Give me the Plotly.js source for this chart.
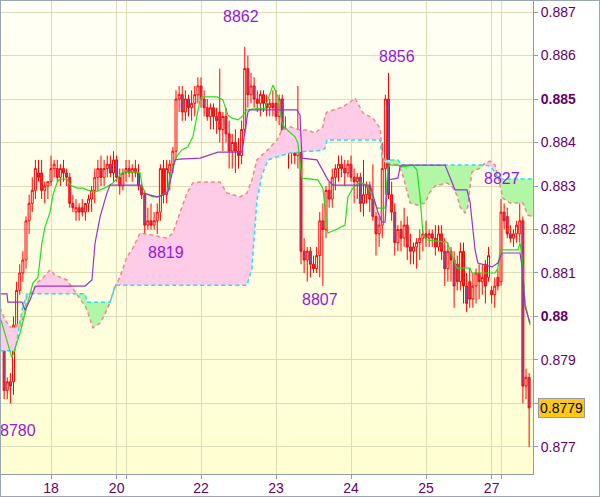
<!DOCTYPE html>
<html><head><meta charset="utf-8">
<script src="https://cdn.plot.ly/plotly-3.0.1.min.js"></script>
<style>
html,body{margin:0;padding:0;background:#fff;}
#wrap{position:relative;width:600px;height:497px;overflow:hidden;}
#bg{position:absolute;left:1px;top:1px;width:532px;height:473px;background:linear-gradient(#FFFFF6,#FFFFD2);}
#chart{position:absolute;left:0;top:0;width:600px;height:497px;}
#frame{position:absolute;left:0;top:0;width:600px;height:497px;box-sizing:border-box;border:1px solid #9AA6B2;pointer-events:none;}
</style></head>
<body><div id="wrap"><div id="bg"></div><div id="chart"></div><div id="frame"></div></div>
<script>
// hourly bars, hour index 0 = day 18 00:00 (weekend hours removed)
const firstHour = -15;
const open = [0.8796,0.8783,0.8785,0.8785,0.8798,0.8806,0.8810,0.8813,0.8822,0.8826,
0.8829,0.8833,0.8833,0.8829,0.8830,0.8831,0.8834,0.8834,0.8832,0.8834,
0.8833,0.8832,0.8826,0.8824,0.8825,0.8825,0.8824,0.8826,0.8827,0.8829,
0.8832,0.8834,0.8832,0.8834,0.8835,0.8833,0.8836,0.8832,0.8830,0.8833,
0.8834,0.8833,0.8834,0.8833,0.8830,0.8828,0.8821,0.8822,0.8821,0.8822,
0.8824,0.8834,0.8828,0.8833,0.8835,0.8838,0.8850,0.8851,0.8847,0.8850,
0.8848,0.8849,0.8851,0.8853,0.8850,0.8848,0.8846,0.8848,0.8846,0.8847,
0.8843,0.8846,0.8842,0.8838,0.8840,0.8838,0.8837,0.8843,0.8857,0.8851,
0.8853,0.8850,0.8849,0.8851,0.8849,0.8848,0.8849,0.8849,0.8846,0.8850,
0.8841,0.8839,0.8838,0.8839,0.8837,0.8840,0.8815,0.8813,0.8815,0.8812,
0.8811,0.8814,0.8822,0.8820,0.8829,0.8827,0.8832,0.8834,0.8835,0.8834,
0.8833,0.8835,0.8832,0.8831,0.8832,0.8826,0.8828,0.8830,0.8827,0.8823,
0.8819,0.8821,0.8834,0.8850,0.8828,0.8824,0.8817,0.8820,0.8818,0.8821,
0.8816,0.8815,0.8816,0.8817,0.8818,0.8819,0.8818,0.8819,0.8818,0.8816,
0.8819,0.8815,0.8811,0.8815,0.8813,0.8812,0.8808,0.8815,0.8807,0.8808,
0.8804,0.8807,0.8810,0.8808,0.8812,0.8809,0.8806,0.8805,0.8809,0.8808,
0.8824,0.8823,0.8819,0.8818,0.8819,0.8819,0.8822,0.8784,0.8786];
const high = [0.8797,0.8786,0.8787,0.8800,0.8808,0.8812,0.8815,0.8823,0.8828,0.8832,
0.8836,0.8836,0.8836,0.8831,0.8831,0.8837,0.8836,0.8836,0.8835,0.8836,
0.8834,0.8833,0.8828,0.8827,0.8826,0.8827,0.8826,0.8828,0.8830,0.8834,
0.8836,0.8837,0.8836,0.8837,0.8837,0.8838,0.8837,0.8834,0.8834,0.8836,
0.8836,0.8835,0.8836,0.8835,0.8831,0.8829,0.8825,0.8826,0.8824,0.8826,
0.8835,0.8836,0.8836,0.8836,0.8839,0.8852,0.8853,0.8853,0.8852,0.8851,
0.8852,0.8853,0.8855,0.8855,0.8852,0.8850,0.8849,0.8849,0.8848,0.8857,
0.8847,0.8848,0.8845,0.8842,0.8843,0.8841,0.8845,0.8862,0.8860,0.8856,
0.8855,0.8852,0.8852,0.8852,0.8851,0.8850,0.8852,0.8852,0.8851,0.8851,
0.8846,0.8843,0.8842,0.8841,0.8853,0.8841,0.8818,0.8816,0.8816,0.8814,
0.8816,0.8824,0.8826,0.8830,0.8831,0.8834,0.8835,0.8837,0.8837,0.8836,
0.8836,0.8837,0.8834,0.8833,0.8833,0.8836,0.8831,0.8831,0.8835,0.8824,
0.8823,0.8840,0.8851,0.8856,0.8831,0.8826,0.8821,0.8822,0.8825,0.8823,
0.8819,0.8817,0.8818,0.8820,0.8820,0.8822,0.8820,0.8820,0.8821,0.8821,
0.8821,0.8818,0.8817,0.8816,0.8815,0.8814,0.8817,0.8817,0.8810,0.8811,
0.8810,0.8811,0.8812,0.8812,0.8813,0.8816,0.8807,0.8809,0.8811,0.8827,
0.8826,0.8825,0.8821,0.8820,0.8822,0.8826,0.8823,0.8788,0.8787];
const low = [0.8781,0.8781,0.8780,0.8782,0.8795,0.8805,0.8808,0.8811,0.8819,0.8824,
0.8827,0.8831,0.8827,0.8826,0.8827,0.8830,0.8832,0.8831,0.8830,0.8831,
0.8830,0.8825,0.8824,0.8822,0.8822,0.8823,0.8822,0.8824,0.8824,0.8826,
0.8829,0.8830,0.8830,0.8832,0.8832,0.8831,0.8831,0.8828,0.8829,0.8831,
0.8832,0.8831,0.8832,0.8829,0.8827,0.8819,0.8820,0.8820,0.8820,0.8819,
0.8822,0.8826,0.8826,0.8829,0.8833,0.8836,0.8847,0.8845,0.8845,0.8846,
0.8845,0.8846,0.8849,0.8848,0.8846,0.8845,0.8843,0.8843,0.8842,0.8840,
0.8838,0.8840,0.8834,0.8834,0.8833,0.8834,0.8835,0.8842,0.8848,0.8849,
0.8848,0.8847,0.8846,0.8847,0.8846,0.8846,0.8846,0.8845,0.8844,0.8838,
0.8838,0.8834,0.8835,0.8835,0.8834,0.8812,0.8810,0.8808,0.8809,0.8810,
0.8810,0.8809,0.8807,0.8818,0.8825,0.8825,0.8829,0.8831,0.8832,0.8830,
0.8832,0.8831,0.8826,0.8827,0.8824,0.8823,0.8826,0.8824,0.8822,0.8814,
0.8816,0.8818,0.8828,0.8827,0.8822,0.8814,0.8815,0.8815,0.8816,0.8813,
0.8812,0.8812,0.8811,0.8813,0.8815,0.8816,0.8816,0.8816,0.8814,0.8815,
0.8813,0.8807,0.8808,0.8808,0.8802,0.8806,0.8806,0.8803,0.8801,0.8802,
0.8802,0.8803,0.8804,0.8805,0.8803,0.8808,0.8803,0.8802,0.8806,0.8807,
0.8820,0.8818,0.8817,0.8816,0.8817,0.8817,0.8780,0.8781,0.8770];
const close = [0.8783,0.8785,0.8784,0.8798,0.8806,0.8810,0.8813,0.8822,0.8826,0.8829,
0.8834,0.8832,0.8829,0.8830,0.8831,0.8834,0.8835,0.8832,0.8834,0.8833,
0.8832,0.8826,0.8825,0.8825,0.8824,0.8824,0.8826,0.8827,0.8829,0.8832,
0.8834,0.8832,0.8834,0.8835,0.8833,0.8836,0.8832,0.8830,0.8833,0.8834,
0.8833,0.8834,0.8833,0.8830,0.8828,0.8821,0.8822,0.8821,0.8822,0.8824,
0.8834,0.8828,0.8834,0.8835,0.8838,0.8850,0.8851,0.8847,0.8850,0.8848,
0.8849,0.8851,0.8853,0.8850,0.8848,0.8846,0.8848,0.8846,0.8845,0.8843,
0.8846,0.8842,0.8838,0.8840,0.8838,0.8837,0.8843,0.8857,0.8851,0.8853,
0.8850,0.8849,0.8851,0.8849,0.8848,0.8849,0.8848,0.8846,0.8850,0.8840,
0.8839,0.8838,0.8839,0.8837,0.8840,0.8815,0.8813,0.8815,0.8812,0.8811,
0.8814,0.8822,0.8820,0.8829,0.8827,0.8832,0.8834,0.8835,0.8834,0.8833,
0.8835,0.8832,0.8831,0.8832,0.8826,0.8828,0.8830,0.8827,0.8823,0.8819,
0.8821,0.8834,0.8850,0.8828,0.8824,0.8817,0.8820,0.8818,0.8821,0.8816,
0.8815,0.8816,0.8817,0.8818,0.8819,0.8818,0.8819,0.8818,0.8816,0.8819,
0.8815,0.8811,0.8815,0.8813,0.8807,0.8808,0.8815,0.8807,0.8803,0.8804,
0.8807,0.8810,0.8808,0.8809,0.8807,0.8814,0.8805,0.8807,0.8807,0.8824,
0.8822,0.8819,0.8818,0.8819,0.8821,0.8822,0.8784,0.8786,0.8779];

// Tenkan-sen (green)
const tenkanH = [-16.0,-12.5,-9.9,-8.3,-5.8,-4.2,-2.9,-1.9,-0.3,0.6,1.9,2.9,5.1,6.1,8.3,10.2,11.5,14.1,17.9,19.8,22.1,23.0,27.5,28.5,29.1,30.1,32.6,34.2,35.5,37.1,38.7,40.3,41.9,43.8,45.4,46.7,47.7,48.3,53.1,55.0,56.6,57.9,59.8,61.1,62.7,64.3,68.5,71.0,72.6,73.9,74.9,78.1,79.0,80.3,85.4,87.0,88.6,90.9,94.1,95.0,96.6,98.9,101.1,102.7,104.3,106.9,107.8,108.5,111.0,112.3,115.8,117.1,118.1,119.0,120.3,126.7,127.7,129.9,134.1,134.7,142.1,143.0,143.7,149.4,150.1,150.7,151.7,153.3];
const tenkan = [0.87992,0.87905,0.87962,0.88008,0.88077,0.88089,0.88169,0.88206,0.88240,0.88279,0.88307,0.88316,0.88316,0.88302,0.88295,0.88295,0.88291,0.88286,0.88298,0.88307,0.88325,0.88332,0.88332,0.88330,0.88302,0.88284,0.88275,0.88275,0.88279,0.88286,0.88341,0.88369,0.88383,0.88390,0.88413,0.88459,0.88498,0.88505,0.88505,0.88498,0.88463,0.88456,0.88452,0.88459,0.88475,0.88477,0.88479,0.88532,0.88505,0.88445,0.88433,0.88413,0.88399,0.88318,0.88314,0.88295,0.88192,0.88199,0.88210,0.88275,0.88295,0.88309,0.88302,0.88279,0.88249,0.88249,0.88344,0.88348,0.88348,0.88344,0.88348,0.88337,0.88275,0.88192,0.88176,0.88171,0.88153,0.88111,0.88111,0.88100,0.88100,0.88111,0.88153,0.88153,0.88169,0.88137,0.88031,0.87980];

// Kijun-sen (purple)
const kijunH = [-16.0,-14.1,-13.8,-9.3,-8.3,-6.7,-5.1,-4.2,10.9,13.1,14.1,15.7,17.9,18.9,28.5,29.4,33.9,35.8,37.4,38.7,39.7,41.3,47.7,53.4,61.1,63.0,63.7,78.7,79.7,80.3,85.1,88.6,90.2,102.1,104.6,105.9,106.9,107.8,111.0,111.7,112.3,126.1,127.7,128.3,129.3,133.1,134.1,135.7,136.6,141.1,143.0,144.3,150.1,151.0,151.7,153.3];
const kijun = [0.88052,0.88052,0.88033,0.88033,0.88015,0.88038,0.88068,0.88070,0.88070,0.88084,0.88169,0.88229,0.88284,0.88302,0.88302,0.88284,0.88275,0.88279,0.88286,0.88330,0.88360,0.88362,0.88364,0.88378,0.88378,0.88470,0.88475,0.88475,0.88463,0.88364,0.88360,0.88314,0.88302,0.88302,0.88240,0.88217,0.88217,0.88314,0.88318,0.88344,0.88348,0.88348,0.88318,0.88307,0.88291,0.88291,0.88263,0.88153,0.88123,0.88114,0.88123,0.88146,0.88146,0.88100,0.88022,0.87985];

// Senkou spans (cloud)
const cloudH = [-16.3,-14.7,-13.1,-11.5,-10.9,-9.9,-9.0,-8.3,-7.7,-6.1,-4.5,-2.6,-0.3,1.3,5.1,6.7,8.6,10.2,10.9,11.5,13.4,15.7,17.9,18.9,19.5,20.5,22.1,24.3,26.2,28.5,32.6,37.1,39.0,41.3,43.5,45.4,47.7,54.1,56.3,60.5,62.7,64.3,65.9,67.5,69.4,72.3,73.9,76.5,79.7,81.9,84.5,87.0,87.7,88.3,90.2,93.4,95.7,97.3,99.8,103.0,105.3,105.9,106.6,111.0,112.3,113.9,114.9,117.4,119.7,121.3,122.9,126.7,128.3,129.9,130.9,132.5,133.4,134.1,134.7,137.3,138.9,140.5,142.1,143.0,144.6,146.9,151.0,152.6,154.2];
const spanA = [0.88020,0.87992,0.87976,0.87974,0.87980,0.87974,0.87997,0.88008,0.88047,0.88056,0.88077,0.88089,0.88107,0.88095,0.88084,0.88068,0.88049,0.88031,0.88024,0.88015,0.87974,0.87985,0.88015,0.88033,0.88045,0.88068,0.88091,0.88137,0.88157,0.88192,0.88187,0.88180,0.88192,0.88238,0.88284,0.88307,0.88309,0.88309,0.88284,0.88275,0.88284,0.88314,0.88360,0.88371,0.88383,0.88406,0.88429,0.88436,0.88429,0.88429,0.88422,0.88436,0.88463,0.88470,0.88475,0.88482,0.88493,0.88502,0.88468,0.88456,0.88433,0.88383,0.88355,0.88348,0.88332,0.88284,0.88261,0.88256,0.88261,0.88286,0.88300,0.88307,0.88300,0.88279,0.88252,0.88238,0.88252,0.88298,0.88332,0.88341,0.88353,0.88357,0.88348,0.88323,0.88272,0.88261,0.88261,0.88233,0.88229];
const spanB = [0.87921,0.87921,0.87921,0.87921,0.87946,0.87992,0.88026,0.88038,0.88052,0.88052,0.88052,0.88052,0.88052,0.88052,0.88052,0.88052,0.88052,0.88052,0.88052,0.88033,0.88033,0.88033,0.88033,0.88033,0.88047,0.88072,0.88072,0.88072,0.88072,0.88072,0.88072,0.88072,0.88072,0.88072,0.88072,0.88072,0.88072,0.88072,0.88072,0.88072,0.88072,0.88111,0.88268,0.88325,0.88360,0.88367,0.88371,0.88376,0.88378,0.88380,0.88380,0.88383,0.88387,0.88406,0.88406,0.88406,0.88406,0.88406,0.88406,0.88406,0.88406,0.88367,0.88360,0.88360,0.88348,0.88348,0.88348,0.88348,0.88348,0.88348,0.88348,0.88348,0.88348,0.88348,0.88348,0.88348,0.88348,0.88348,0.88348,0.88348,0.88348,0.88346,0.88332,0.88318,0.88316,0.88316,0.88316,0.88316,0.88316];

// high / low labels
const labelText = ['8862','8856','8819','8807','8780','8827'];
const labelH = [60.8,110.7,36.8,86.1,-10.6,144.3];
const labelY = [0.88689,0.88597,0.88148,0.88038,0.87739,0.88318];

const lastPrice = 0.8779;
const yTicks = [0.877,0.878,0.879,0.880,0.881,0.882,0.883,0.884,0.885,0.886,0.887];
const yTickText = ['0.877','','0.879','<b>0.88</b>','0.881','0.882','0.883','0.884','<b>0.885</b>','0.886','0.887'];
const xTicks = [0,21,24,48,72,96,120,141,144];
const xTickText = ['18','20','','22','23','24','25','27',''];

const barH = open.map((_, i) => firstHour + i);
const upper = spanA.map((a, i) => Math.max(a, spanB[i]));

const traces = [
  {x: cloudH, y: spanB, mode: 'lines', line: {width: 0, color: 'rgba(0,0,0,0)'}, hoverinfo: 'skip', showlegend: false},
  {x: cloudH, y: upper, mode: 'lines', line: {width: 0, color: 'rgba(0,0,0,0)'}, fill: 'tonexty', fillcolor: '#FFCCE8', hoverinfo: 'skip', showlegend: false},
  {x: cloudH, y: spanA, mode: 'lines', line: {width: 0, color: 'rgba(0,0,0,0)'}, hoverinfo: 'skip', showlegend: false},
  {x: cloudH, y: upper, mode: 'lines', line: {width: 0, color: 'rgba(0,0,0,0)'}, fill: 'tonexty', fillcolor: '#B2F7A6', hoverinfo: 'skip', showlegend: false},
  {x: cloudH, y: spanA, mode: 'lines', line: {width: 1.5, color: '#F08888', dash: '4px,3px'}, hoverinfo: 'skip', showlegend: false},
  {x: cloudH, y: spanB, mode: 'lines', line: {width: 1.5, color: '#22E0F0', dash: '4px,3px'}, hoverinfo: 'skip', showlegend: false},
  {type: 'candlestick', x: barH, open: open, high: high, low: low, close: close,
   increasing: {line: {color: '#FF0000', width: 1}, fillcolor: 'rgba(0,0,0,0)'},
   decreasing: {line: {color: '#FF0000', width: 1}, fillcolor: '#7B55B5'},
   whiskerwidth: 0, hoverinfo: 'skip', showlegend: false},
  {x: tenkanH, y: tenkan, mode: 'lines', line: {width: 1.2, color: '#22DD22'}, hoverinfo: 'skip', showlegend: false},
  {x: kijunH, y: kijun, mode: 'lines', line: {width: 1.2, color: '#9933CC'}, hoverinfo: 'skip', showlegend: false}
];

const annotations = labelText.map((t, i) => ({
  x: labelH[i], y: labelY[i], xref: 'x', yref: 'y', text: t, showarrow: false,
  font: {family: 'Arial, Liberation Sans, sans-serif', size: 16, color: '#9418D8'}
}));
annotations.push({
  x: 1.0094, xref: 'paper', y: lastPrice, yref: 'y', xanchor: 'left', yanchor: 'middle',
  text: '0.8779', showarrow: false, bgcolor: '#FFC814', bordercolor: '#8E9BA8', borderwidth: 1, borderpad: 1,
  font: {family: 'Arial, Liberation Sans, sans-serif', size: 14, color: '#000'}
});

const layout = {
  width: 600, height: 497,
  margin: {l: 1, r: 67, t: 1, b: 23, pad: 0},
  paper_bgcolor: 'rgba(0,0,0,0)', plot_bgcolor: 'rgba(0,0,0,0)',
  showlegend: false, hovermode: false, dragmode: false,
  boxgap: 0.1,
  xaxis: {type: 'linear', range: [-16, 154.24], rangeslider: {visible: false},
    tickmode: 'array', tickvals: xTicks, ticktext: xTickText,
    showgrid: true, gridcolor: '#DCDCB8', gridwidth: 1, zeroline: false,
    showline: true, linecolor: '#8E9BA8', linewidth: 1,
    ticks: 'outside', ticklen: 4, tickcolor: '#8E9BA8', ticklabelstandoff: -3,
    tickfont: {family: 'Arial, Liberation Sans, sans-serif', size: 14, color: '#660066'}},
  yaxis: {side: 'right', range: [0.876379, 0.887253], tickmode: 'array', tickvals: yTicks, ticktext: yTickText,
    showgrid: true, gridcolor: '#DCDCB8', gridwidth: 1, zeroline: false,
    showline: true, linecolor: '#8E9BA8', linewidth: 1,
    ticks: 'outside', ticklen: 4, tickcolor: '#8E9BA8',
    tickfont: {family: 'Arial, Liberation Sans, sans-serif', size: 14, color: '#660066'}},
  annotations: annotations
};

Plotly.newPlot('chart', traces, layout, {displayModeBar: false, staticPlot: true});
</script>
</body></html>
